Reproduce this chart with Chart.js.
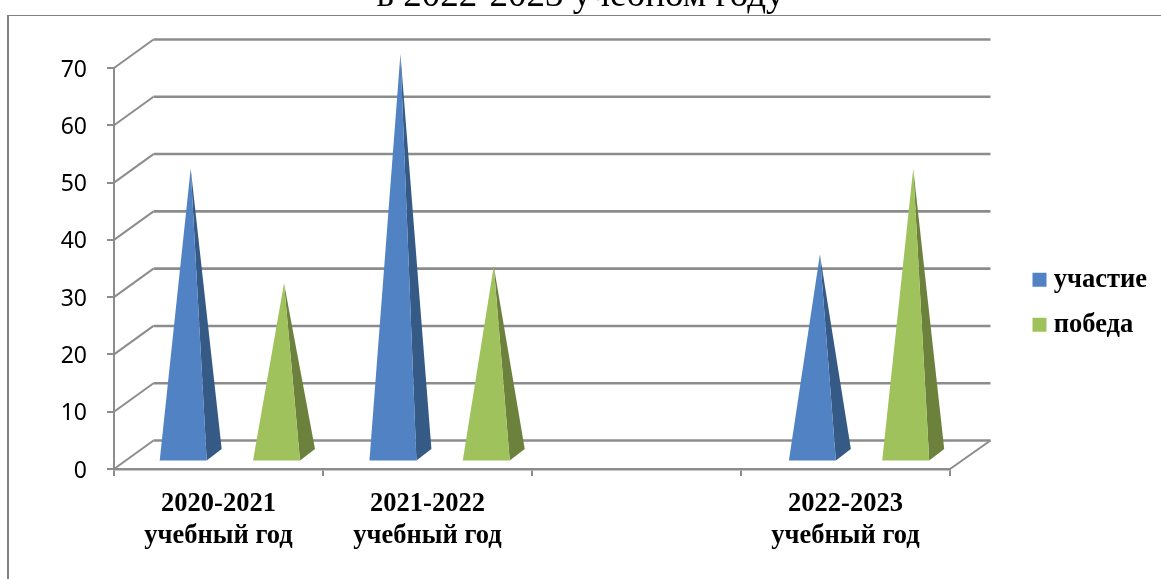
<!DOCTYPE html>
<html lang="ru">
<head>
<meta charset="utf-8">
<title>Участие и победы</title>
<script src="https://cdn.jsdelivr.net/npm/chart.js@4"></script>
<style>
    body { margin: 0; background: #fff; }
    canvas { display: block; }
</style>
</head>
<body>
<canvas id="chart" width="1161" height="579"></canvas>
<script>
// Chart data
const chartTitle = 'в 2022-2023 учебном году';
const categories = [['2020-2021', 'учебный год'], ['2021-2022', 'учебный год'], '', ['2022-2023', 'учебный год']];
const uchastie = [50, 70, null, 35];
const pobeda = [30, 33, null, 50];
const seriesNames = ['участие', 'победа'];
const frontColors = ['#5082c4', '#9fc25c'];
const sideColors = ['#355a86', '#6c823c'];

const gridColor = '#8c8c8c';
const serifBold = size => ({ family: '"Liberation Serif"', size: size, weight: 'bold' });

// Depth of the fake 3D box
const wallX = 39.5;
const wallY = 28.5;

function line(ctx, x1, y1, x2, y2, width) {
    ctx.lineWidth = width;
    ctx.beginPath();
    ctx.moveTo(x1, y1);
    ctx.lineTo(x2, y2);
    ctx.stroke();
}

function fillShape(ctx, color, points) {
    ctx.fillStyle = color;
    ctx.beginPath();
    points.forEach(p => ctx.lineTo(p[0], p[1]));
    ctx.closePath();
    ctx.fill();
}

const box3d = {
    id: 'box3d',
    afterLayout(chart) {
        // the legend sits further right and lower than Chart.js would put it
        const legend = chart.legend;
        legend.left = 1020;
        legend.right = 1161;
        legend.top = 248;
        legend.bottom = 579;
        // title is centred on the whole picture and cut off by its top edge
        chart.titleBlock.left = 0;
        chart.titleBlock.right = 1161;
        chart.titleBlock.top = -22;
    },
    beforeDraw(chart) {
        // outer frame, cut off by the right and bottom edges of the picture
        const ctx = chart.ctx;
        ctx.save();
        ctx.strokeStyle = '#808080';
        line(ctx, 8, 15.5, 1161, 15.5, 1.2);
        line(ctx, 8, 15, 8, 579, 2);
        ctx.restore();
    },
    beforeDatasetsDraw(chart) {
        const ctx = chart.ctx;
        const area = chart.chartArea;
        const y = chart.scales.y;
        ctx.save();
        ctx.strokeStyle = gridColor;
        y.ticks.forEach(tick => {
            const py = y.getPixelForValue(tick.value);
            line(ctx, area.left, py, area.left + wallX, py - wallY, 2);
            line(ctx, area.left + wallX, py - wallY, area.right + wallX + 1, py - wallY, 2.6);
        });
        line(ctx, area.right, area.bottom, area.right + wallX + 1, area.bottom - wallY, 2);
        ctx.restore();
    },
    beforeDatasetDraw(chart, args) {
        // pyramids instead of the plain bars
        const ctx = chart.ctx;
        const i = args.index;
        const values = chart.data.datasets[i].data;
        chart.getDatasetMeta(i).data.forEach((bar, n) => {
            if (values[n] === null) return;
            const half = bar.width / 2;
            // the 3D view pushes the bars to the right, a bit more further along the axis
            const x = bar.x + 11 + (bar.x - chart.chartArea.left) * 0.0035;
            const baseY = bar.base - 7.5;
            const tip = [x + 7.5, bar.y - 14];
            const frontRight = [x + half, baseY];
            fillShape(ctx, sideColors[i], [frontRight, [x + half + 15, baseY - 11.5], tip]);
            fillShape(ctx, frontColors[i], [[x - half, baseY], frontRight, tip]);
        });
        return false;
    }
};

new Chart(document.getElementById('chart'), {
    type: 'bar',
    data: {
        labels: categories,
        datasets: [
            { label: seriesNames[0], data: uchastie, backgroundColor: frontColors[0], borderColor: frontColors[0], borderWidth: 12 },
            { label: seriesNames[1], data: pobeda, backgroundColor: frontColors[1], borderColor: frontColors[1], borderWidth: 12 }
        ]
    },
    options: {
        responsive: false,
        animation: false,
        categoryPercentage: 0.89,
        barPercentage: 0.505,
        layout: { padding: { right: 74, bottom: 10 } },
        plugins: {
            tooltip: { enabled: false },
            title: {
                display: true,
                text: chartTitle,
                color: '#000',
                font: { family: '"Liberation Serif"', size: 37, weight: 'normal', lineHeight: 1 },
                padding: { top: 0, bottom: 31 }
            },
            legend: {
                position: 'right',
                align: 'start',
                labels: {
                    color: '#000',
                    font: serifBold(26.5),
                    // small box with a thick border, so the text can start closer to it
                    boxWidth: 2,
                    boxHeight: 2,
                    padding: 18.5
                }
            }
        },
        scales: {
            x: {
                grid: { drawOnChartArea: false, color: gridColor, lineWidth: 2, tickLength: 7 },
                border: { color: gridColor, width: 2.5 },
                ticks: { color: '#000', font: serifBold(26.5), padding: 12, autoSkip: false, maxRotation: 0 },
                afterFit(scale) {
                    scale.height = 100;
                    scale.paddingLeft = 0;
                    scale.paddingRight = 0;
                }
            },
            y: {
                min: 0,
                max: 70,
                ticks: { stepSize: 10, color: '#000', font: { family: '"Noto Sans"', size: 23 }, padding: 20, labelOffset: 2 },
                grid: { drawOnChartArea: false, color: gridColor, lineWidth: 2, tickLength: 7 },
                border: { color: gridColor, width: 2 },
                afterFit(scale) {
                    scale.width = 114;
                    scale.paddingTop = 0;
                    scale.paddingBottom = 0;
                }
            }
        }
    },
    plugins: [box3d]
});
</script>
</body>
</html>
